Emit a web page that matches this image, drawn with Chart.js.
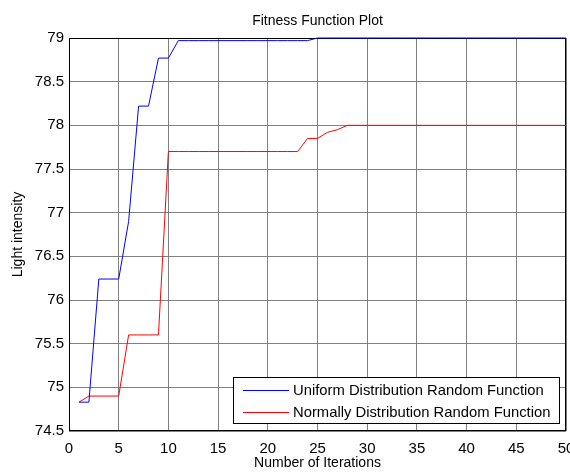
<!DOCTYPE html>
<html>
<head>
<meta charset="utf-8">
<script src="https://cdn.jsdelivr.net/npm/chart.js@4/dist/chart.umd.min.js"></script>
<style>
  html, body { margin: 0; padding: 0; background: #ffffff; }
  #wrap { width: 570px; height: 472px; }
</style>
</head>
<body>
<div id="wrap"><canvas id="c" width="570" height="472"></canvas></div>
<script>
// Iteration numbers
const iterations = [1,2,3,4,5,6,7,8,9,10,11,12,13,14,15,16,17,18,19,20,21,22,23,24,25,
  26,27,28,29,30,31,32,33,34,35,36,37,38,39,40,41,42,43,44,45,46,47,48,49,50];

// Best light intensity per iteration, uniform random function
const uniformValues = [74.83,74.83,76.24,76.24,76.24,76.90,78.22,78.22,78.77,78.77,
  78.97,78.97,78.97,78.97,78.97,78.97,78.97,78.97,78.97,78.97,78.97,78.97,78.97,78.97,
  79.00,79.00,79.00,79.00,79.00,79.00,79.00,79.00,79.00,79.00,79.00,79.00,79.00,79.00,
  79.00,79.00,79.00,79.00,79.00,79.00,79.00,79.00,79.00,79.00,79.00,79.00];

// Best light intensity per iteration, normal random function
const normalValues = [74.83,74.90,74.90,74.90,74.90,75.60,75.60,75.60,75.60,77.70,
  77.70,77.70,77.70,77.70,77.70,77.70,77.70,77.70,77.70,77.70,77.70,77.70,77.70,
  77.85,77.85,77.92,77.95,78.00,78.00,78.00,78.00,78.00,78.00,78.00,78.00,78.00,78.00,
  78.00,78.00,78.00,78.00,78.00,78.00,78.00,78.00,78.00,78.00,78.00,78.00,78.00];

const seriesNames = ['Uniform Distribution Random Function', 'Normally Distribution Random Function'];
const seriesColors = ['#0000ff', '#ff0000'];
const titleText = 'Fitness Function Plot';
const xTitle = 'Number of Iterations';
const yTitle = 'Light intensity';

const FONT = '"Liberation Sans", Arial, sans-serif';

const toPoints = (vals) => vals.map((v, i) => ({ x: iterations[i], y: v }));

// Frame, plot title and the boxed legend inside the axes
const decorations = {
  id: 'decorations',
  beforeDatasetsDraw(chart) {
    const { ctx, chartArea: a } = chart;
    ctx.save();
    ctx.strokeStyle = '#000000';
    ctx.lineWidth = 1;
    ctx.strokeRect(a.left + 0.5, a.top + 0.5, a.right - a.left - 1, a.bottom - a.top - 1);
    ctx.restore();
  },
  afterDatasetsDraw(chart) {
    const { ctx, chartArea: a } = chart;
    ctx.save();
    // title
    ctx.fillStyle = '#000000';
    ctx.font = '14px ' + FONT;
    ctx.textAlign = 'center';
    ctx.textBaseline = 'middle';
    ctx.fillText(titleText, (a.left + a.right) / 2, 21);

    // legend box
    const bx = 233.5, by = 377.5, bw = 326, bh = 46;
    ctx.fillStyle = '#ffffff';
    ctx.fillRect(bx, by, bw, bh);
    ctx.strokeStyle = '#000000';
    ctx.lineWidth = 1;
    ctx.strokeRect(bx, by, bw, bh);
    ctx.font = '14.8px ' + FONT;
    ctx.textAlign = 'left';
    chart.data.datasets.forEach((ds, i) => {
      const yy = 390 + i * 22;
      ctx.fillStyle = seriesColors[i];
      ctx.fillRect(243, yy, 46, 1);
      ctx.fillStyle = '#000000';
      ctx.fillText(ds.label, 293, yy + 1);
    });
    ctx.restore();
  }
};

new Chart(document.getElementById('c'), {
  type: 'line',
  data: {
    datasets: [
      { label: seriesNames[0], data: toPoints(uniformValues), borderColor: seriesColors[0],
        borderWidth: 1, pointRadius: 0, tension: 0, fill: false, clip: 3 },
      { label: seriesNames[1], data: toPoints(normalValues), borderColor: seriesColors[1],
        borderWidth: 1, pointRadius: 0, tension: 0, fill: false, clip: 3 }
    ]
  },
  options: {
    responsive: false,
    animation: false,
    devicePixelRatio: 1,
    layout: { padding: { top: 38, right: 4, left: 0, bottom: 0 } },
    plugins: {
      legend: { display: false },
      title: { display: false },
      tooltip: { enabled: false }
    },
    scales: {
      x: {
        type: 'linear',
        min: 0, max: 50,
        afterFit(s) { s.height = 41; s.paddingLeft = 0; s.paddingRight = 0; },
        ticks: { stepSize: 5, color: '#000000', font: { family: FONT, size: 15 }, padding: 9, maxRotation: 0 },
        grid: { color: '#808080', drawTicks: false, lineWidth: 1 },
        border: { display: false },
        title: { display: true, text: xTitle, color: '#000000',
                 font: { family: FONT, size: 14 }, padding: { top: 0, bottom: 0 } }
      },
      y: {
        type: 'linear',
        min: 74.5, max: 79,
        afterFit(s) { s.width = 69; s.paddingTop = 0; s.paddingBottom = 0; },
        ticks: { stepSize: 0.5, color: '#000000', font: { family: FONT, size: 15 }, padding: 5,
                 callback: (v) => String(Math.round(v * 10) / 10) },
        grid: { color: '#808080', drawTicks: false, lineWidth: 1 },
        border: { display: false },
        title: { display: true, text: yTitle, color: '#000000',
                 font: { family: FONT, size: 14 }, padding: { top: 10, bottom: 0 } }
      }
    }
  },
  plugins: [decorations]
});
</script>
</body>
</html>
